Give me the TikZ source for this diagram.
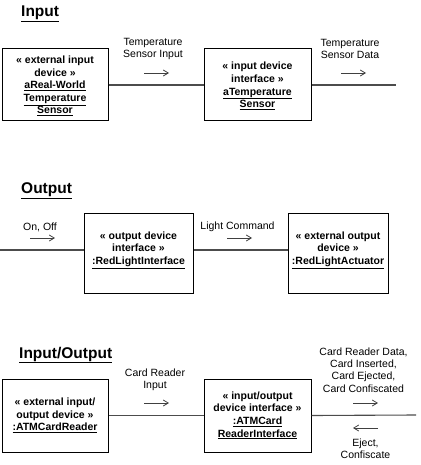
\documentclass[tikz,border=0pt]{standalone}
\usepackage{fontspec}
\setmainfont{Liberation Sans}
\usetikzlibrary{arrows.meta}
\begin{document}
\begin{tikzpicture}[x=1pt,y=-1pt,
  obj/.style={draw=black,line width=1pt,inner sep=0pt},
  objtxt/.style={align=center,font=\bfseries\fontsize{10.5}{12.6}\selectfont,inner sep=0pt},
  lbl/.style={align=center,font=\fontsize{10.5}{12.4}\selectfont,inner sep=0pt},
  ttl/.style={anchor=west,font=\bfseries\fontsize{15.5}{18}\selectfont,inner sep=0pt},
  link/.style={draw=black!70,line width=1.1pt},
  flow/.style={draw=black!75,line width=0.8pt,-{Straight Barb[length=5pt,width=6pt]}}
]
\useasboundingbox (0,0) rectangle (420,465);
% ---------- Input ----------
\node[ttl] (t1) at (21,13.5) {\underline{Input}};
\node[obj,minimum width=106,minimum height=72] (ib1) at (55,85) {};
\node[objtxt] (ib1t) at (55,86) {« external input\\device »\\\underline{aReal-World}\\\underline{Temperature}\\\underline{Sensor}};
\node[obj,minimum width=107,minimum height=72] (ib2) at (257.5,85) {};
\node[objtxt] (ib2t) at (257.5,86) {« input device\\interface »\\\underline{aTemperature}\\\underline{Sensor}};
\coordinate (iend) at (396,85);
\draw[link] (ib1.east) -- (ib2.west);
\draw[link] (ib2.east) -- (iend);
\node[lbl] (il1) at (153,49) {Temperature\\Sensor Input};
\node[lbl] (il2) at (350,49) {Temperature\\Sensor Data};
\coordinate (ia1s) at (144,73); \coordinate (ia1e) at (169,73);
\coordinate (ia2s) at (341,73); \coordinate (ia2e) at (366,73);
\draw[flow] (ia1s) -- (ia1e);
\draw[flow] (ia2s) -- (ia2e);
% ---------- Output ----------
\node[ttl] (t2) at (21,191) {\underline{Output}};
\coordinate (oline) at (0,250);
\node[obj,minimum width=109,minimum height=80] (ob1) at (138.5,253) {};
\node[objtxt] (ob1t) at (138.5,250) {« output device\\interface »\\\underline{:RedLightInterface}};
\node[obj,minimum width=100,minimum height=80] (ob2) at (338,253) {};
\node[objtxt] (ob2t) at (338,250) {« external output\\device »\\\underline{:RedLightActuator}};
\draw[link] (oline) -- (ob1.west |- oline);
\draw[link] (ob1.east |- oline) -- (ob2.west |- oline);
\node[lbl] (ol1) at (40,227) {On, Off};
\node[lbl] (ol2) at (237.5,227) {Light Command};
\coordinate (oa1s) at (30,238); \coordinate (oa1e) at (55,238);
\coordinate (oa2s) at (227,238); \coordinate (oa2e) at (252,238);
\draw[flow] (oa1s) -- (oa1e);
\draw[flow] (oa2s) -- (oa2e);
% ---------- Input/Output ----------
\node[ttl] (t3) at (19,355) {\underline{Input/Output}};
\node[obj,minimum width=106,minimum height=73] (xb1) at (55,415.5) {};
\node[objtxt] (xb1t) at (55,415.5) {« external input/\\output device »\\\underline{:ATMCardReader}};
\node[obj,minimum width=107,minimum height=73] (xb2) at (257.5,415.5) {};
\node[objtxt] (xb2t) at (257.5,415.5) {« input/output\\device interface »\\\underline{:ATMCard}\\\underline{ReaderInterface}};
\coordinate (xend) at (416,415);
\draw[link] (xb1.east) -- (xb2.west);
\draw[link] (xb2.east) -- (xend);
\node[lbl] (xl1) at (155,380) {Card Reader\\Input};
\node[lbl] (xl2) at (363.5,370) {Card Reader Data,\\Card Inserted,\\Card Ejected,\\Card Confiscated};
\node[lbl] (xl3) at (365.5,449) {Eject,\\Confiscate};
\coordinate (xa1s) at (144,403); \coordinate (xa1e) at (169,403);
\coordinate (xa2s) at (353,403); \coordinate (xa2e) at (378,403);
\coordinate (xa3s) at (378,428); \coordinate (xa3e) at (353,428);
\draw[flow] (xa1s) -- (xa1e);
\draw[flow] (xa2s) -- (xa2e);
\draw[flow] (xa3s) -- (xa3e);
\end{tikzpicture}
\end{document}
